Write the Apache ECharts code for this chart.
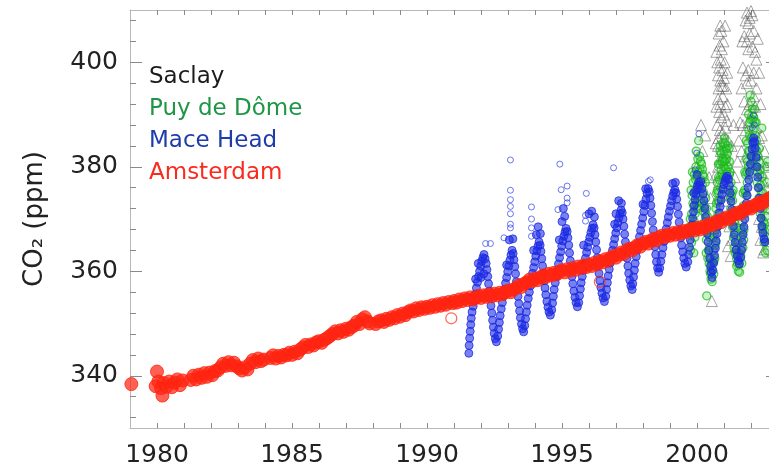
<!DOCTYPE html>
<html>
<head>
<meta charset="utf-8">
<script src="https://cdn.jsdelivr.net/npm/echarts@6/dist/echarts.min.js"></script>
<style>
html,body{margin:0;padding:0;background:#fff;}
#chart{width:769px;height:465px;}
</style>
</head>
<body>
<div id="chart"></div>
<script>
// ---------- data ----------
const seriesNames = ['Saclay', 'Puy de Dôme', 'Mace Head', 'Amsterdam'];
const legendColors = ['#1a1a1a', '#1e9646', '#1e3caa', '#fa2a1e'];

const xLabelYears = [1980, 1985, 1990, 1995, 2000];
const xTickYears = [1980,1981,1982,1983,1984,1985,1986,1987,1988,1989,1990,1991,1992,1993,1994,1995,1996,1997,1998,1999,2000,2001,2002];
const yLabelValues = [340, 360, 380, 400];
const yMinorTicks = [332,336,340,344,348,352,356,360,364,368,372,376,380,384,388,392,396,400,404,408];

// Amsterdam [year, ppm]
const amsterdam = [
[1979.05,338.4],
[1979.95,338.0],[1980.0,340.8],[1980.05,338.9],[1980.15,337.6],[1980.2,336.2],[1980.25,338.6],[1980.35,337.9],[1980.45,338.9],[1980.55,337.8],[1980.65,338.7],[1980.75,339.3],[1980.85,338.2],[1980.95,339.1],
[1981.25,339.2],[1981.35,340.0],[1981.45,339.3],[1981.55,340.2],[1981.65,339.6],[1981.75,340.5],[1981.85,339.8],[1981.95,340.6],[1982.05,340.1],[1982.15,340.9],[1982.25,341.0],[1982.35,341.6],[1982.45,342.3],[1982.55,341.9],[1982.65,342.6],[1982.75,342.0],[1982.85,342.5],[1982.95,341.8],[1983.05,341.4],[1983.15,341.0],[1983.25,341.6],[1983.35,341.2],[1983.45,342.3],[1983.55,343.0],[1983.65,342.6],[1983.75,343.3],[1983.85,342.8],[1983.95,343.1],
[1984.2,343.4],[1984.3,343.9],[1984.4,343.3],[1984.5,343.8],[1984.6,343.5],[1984.7,344.0],[1984.8,343.9],[1984.9,344.4],[1985.0,344.0],[1985.1,344.6],[1985.2,344.3],[1985.3,345.0],[1985.4,345.4],[1985.5,345.9],[1985.6,345.5],[1985.7,346.0],[1985.8,345.8],[1985.9,346.4],[1986.0,346.6],[1986.1,346.3],[1986.2,346.9],[1986.3,347.2],[1986.4,347.6],[1986.5,348.0],[1986.6,348.5],[1986.7,348.1],[1986.8,348.7],[1986.9,348.4],[1987.0,349.0],[1987.1,348.8],[1987.2,349.3],[1987.3,349.6],[1987.4,350.3],[1987.5,349.9],[1987.6,350.8],[1987.7,351.2],[1987.8,350.4],[1987.88,350.0],
[1988.1,349.9],[1988.2,350.4],[1988.3,350.6],[1988.4,350.3],[1988.5,350.9],[1988.6,350.7],[1988.7,351.2],[1988.8,351.0],[1988.9,351.6],[1989.0,351.3],[1989.1,351.9],[1989.2,351.6],[1989.3,352.2],[1989.4,352.5],[1989.5,352.3],[1989.6,352.9],[1989.7,352.6],[1989.8,353.1],[1989.9,352.8],[1990.0,353.2],[1990.1,353.0],[1990.2,353.5],[1990.3,353.2],[1990.4,353.7],[1990.5,353.4],[1990.6,353.9],[1990.7,353.6],[1990.8,354.1],[1990.95,353.9],[1991.0,354.3],[1991.1,354.0],[1991.2,354.6],[1991.3,354.3],[1991.4,354.8],[1991.5,354.5],[1991.6,355.0],[1991.7,354.6],[1991.8,354.9],[1991.9,355.3],[1992.0,354.9],[1992.1,355.4],[1992.2,355.1],[1992.3,355.6],[1992.4,355.2],[1992.5,355.7],[1992.6,355.4],[1992.7,355.9],[1992.8,355.6],[1992.9,356.0],[1993.0,356.3],[1993.1,356.0],[1993.2,356.5],[1993.3,356.8],[1993.4,357.3],[1993.5,357.0],[1993.6,357.6],[1993.7,357.9],[1993.8,358.4],[1993.9,358.1],[1994.0,358.6],[1994.1,358.3],[1994.2,358.8],[1994.3,359.2],[1994.4,358.9],[1994.5,359.5],[1994.6,359.2],[1994.7,359.7],[1994.8,359.4],[1994.9,359.9],[1995.0,360.2],[1995.1,359.8],[1995.2,360.4],[1995.3,360.1],[1995.4,360.6],[1995.5,360.3],[1995.6,360.9],[1995.7,360.6],[1995.8,361.1],[1995.9,360.8],[1996.0,361.3],[1996.1,361.0],[1996.2,361.6],[1996.3,361.3],[1996.4,361.9],[1996.5,361.7],[1996.6,362.3],[1996.7,362.0],[1996.8,362.6],[1996.9,362.9],[1997.0,362.6],[1997.1,363.2],[1997.2,363.6],[1997.3,363.3],[1997.4,364.0],[1997.5,364.3],[1997.6,364.0],[1997.7,364.6],[1997.8,365.0],[1997.9,364.7],[1998.0,365.3],[1998.1,365.6],[1998.2,365.3],[1998.3,365.9],[1998.4,366.2],[1998.5,365.9],[1998.6,366.5],[1998.7,366.8],[1998.8,366.5],[1998.9,367.0],[1999.0,366.8],[1999.1,367.3],[1999.2,367.0],[1999.3,367.5],[1999.4,367.2],[1999.5,367.7],[1999.6,367.5],[1999.7,367.9],[1999.8,368.1],[1999.9,367.8],[2000.0,368.3],[2000.1,368.0],[2000.2,368.5],[2000.3,368.3],[2000.4,368.8],[2000.5,369.1],[2000.6,368.8],[2000.7,369.4],[2000.8,369.7],[2000.9,369.4],[2001.0,370.0],[2001.1,370.3],[2001.2,370.0],[2001.3,370.6],[2001.4,370.9],[2001.5,371.2],[2001.6,371.0],[2001.7,371.6],[2001.8,371.9],[2001.9,372.2],[2002.0,372.0],[2002.1,372.5],[2002.2,372.8],[2002.3,373.1],[2002.4,372.9],[2002.5,373.4],[2002.6,373.7],[2002.7,374.0],[2002.8,374.3],[2002.9,374.6]
];
// Amsterdam isolated readings [year, ppm]
const amsterdamOutliers = [[1990.9,351.0],[1996.4,358.0]];

// Mace Head main seasonal track [year, ppm]
const maceHead = [
[1991.55,344.3],[1991.56,345.8],[1991.58,347.2],[1991.6,348.5],[1991.62,349.8],[1991.64,351.0],[1991.67,352.2],[1991.71,353.3],[1991.75,354.4],[1991.79,355.6],[1991.83,356.8],[1991.87,357.9],[1991.91,359.0],[1991.95,360.0],[1991.99,361.0],[1992.03,361.9],[1992.07,362.6],[1992.11,363.2],[1992.15,362.4],[1992.19,361.5],[1992.22,360.3],[1992.25,359.0],[1992.28,357.6],[1992.31,356.2],[1992.34,354.8],[1992.37,353.4],[1992.4,352.0],[1992.43,350.6],[1992.46,349.3],[1992.49,348.1],[1992.53,347.1],[1992.57,346.5],
[1991.8,358.5],[1991.9,361.5],[1992.0,358.8],[1992.1,359.5],
[1992.62,347.6],[1992.65,348.9],[1992.68,350.2],[1992.71,351.5],[1992.75,352.8],[1992.79,354.0],[1992.83,355.3],[1992.87,356.5],[1992.91,357.7],[1992.95,358.8],[1992.99,359.9],[1993.03,361.0],[1993.07,362.1],[1993.11,363.1],[1993.15,364.0],[1993.19,363.4],[1993.22,362.2],[1993.25,360.9],[1993.28,359.5],[1993.31,358.0],[1993.34,356.6],[1993.37,355.2],[1993.4,353.8],[1993.43,352.4],[1993.46,351.1],[1993.5,349.9],[1993.54,349.0],[1993.58,348.4],
[1992.95,361.2],[1993.05,366.0],[1993.18,366.2],
[1993.62,349.6],[1993.65,350.9],[1993.68,352.2],[1993.71,353.5],[1993.75,354.8],[1993.79,356.0],[1993.83,357.2],[1993.87,358.4],[1993.91,359.6],[1993.95,360.7],[1993.99,361.8],[1994.03,362.9],[1994.07,363.9],[1994.11,364.8],[1994.15,365.6],[1994.19,365.0],[1994.22,363.8],[1994.25,362.4],[1994.28,361.0],[1994.31,359.6],[1994.34,358.2],[1994.37,356.8],[1994.4,355.5],[1994.44,354.2],[1994.48,353.1],[1994.52,352.2],[1994.57,351.6],
[1993.95,364.0],[1994.05,367.0],[1994.12,368.5],[1994.2,367.2],
[1994.62,352.6],[1994.65,353.9],[1994.68,355.2],[1994.71,356.5],[1994.75,357.8],[1994.79,359.0],[1994.83,360.2],[1994.87,361.4],[1994.91,362.6],[1994.95,363.7],[1994.99,364.8],[1995.03,365.8],[1995.07,366.7],[1995.11,367.5],[1995.15,368.2],[1995.19,367.6],[1995.22,366.4],[1995.25,365.0],[1995.28,363.5],[1995.31,362.0],[1995.34,360.5],[1995.37,359.0],[1995.4,357.6],[1995.44,356.2],[1995.48,355.0],[1995.52,354.0],[1995.57,353.2],
[1995.0,369.5],[1995.1,370.5],[1994.9,366.0],[1995.05,372.0],
[1995.62,354.0],[1995.65,355.3],[1995.68,356.6],[1995.71,357.8],[1995.75,359.0],[1995.79,360.2],[1995.83,361.4],[1995.87,362.5],[1995.91,363.6],[1995.95,364.6],[1995.99,365.6],[1996.03,366.5],[1996.07,367.4],[1996.11,368.2],[1996.15,368.9],[1996.19,368.3],[1996.22,367.0],[1996.25,365.6],[1996.28,364.1],[1996.31,362.6],[1996.34,361.1],[1996.37,359.6],[1996.4,358.2],[1996.44,356.9],[1996.48,355.8],[1996.52,354.9],[1996.57,354.2],
[1996.0,371.0],[1996.1,371.5],[1996.2,370.4],[1995.8,365.0],
[1996.62,355.2],[1996.65,356.5],[1996.68,357.8],[1996.71,359.1],[1996.75,360.4],[1996.79,361.6],[1996.83,362.8],[1996.87,364.0],[1996.91,365.1],[1996.95,366.2],[1996.99,367.3],[1997.03,368.3],[1997.07,369.3],[1997.11,370.2],[1997.15,371.0],[1997.19,371.7],[1997.23,371.2],[1997.26,370.0],[1997.29,368.6],[1997.32,367.1],[1997.35,365.6],[1997.38,364.0],[1997.41,362.5],[1997.44,361.0],[1997.47,359.6],[1997.51,358.3],[1997.55,357.2],
[1997.0,371.0],[1997.1,373.5],[1997.2,373.0],[1996.95,369.0],
[1997.6,356.5],[1997.62,357.6],[1997.65,358.9],[1997.68,360.2],[1997.71,361.5],[1997.75,362.8],[1997.79,364.1],[1997.83,365.4],[1997.87,366.6],[1997.91,367.8],[1997.95,369.0],[1997.99,370.2],[1998.03,371.4],[1998.07,372.6],[1998.11,373.8],[1998.15,374.9],[1998.19,375.8],[1998.23,375.2],[1998.26,374.0],[1998.29,372.6],[1998.32,371.1],[1998.35,369.5],[1998.38,367.9],[1998.41,366.3],[1998.44,364.7],[1998.47,363.2],[1998.5,361.8],[1998.54,360.6],[1998.58,359.8],
[1998.1,375.8],[1998.0,372.8],
[1998.62,360.6],[1998.66,361.9],[1998.7,363.2],[1998.74,364.5],[1998.78,365.7],[1998.82,366.9],[1998.86,368.1],[1998.9,369.3],[1998.94,370.4],[1998.98,371.5],[1999.02,372.5],[1999.06,373.5],[1999.1,374.4],[1999.14,375.1],[1999.18,375.6],[1999.22,375.0],[1999.25,373.8],[1999.28,372.4],[1999.31,370.9],[1999.34,369.4],[1999.37,367.9],[1999.4,366.4],[1999.43,365.0],[1999.47,363.7],[1999.51,362.5],[1999.55,361.5],[1999.6,360.8],
[1999.1,376.8],[1999.2,377.0],
[1999.66,361.8],[1999.69,363.2],[1999.72,364.6],[1999.75,366.0],[1999.78,367.4],[1999.81,368.8],[1999.84,370.1],[1999.87,371.4],[1999.9,372.6],[1999.93,373.7],[1999.96,374.7],[1999.99,375.6],[2000.02,376.4],[2000.06,377.0],[2000.1,376.4],[2000.14,377.2],[2000.18,375.8],[2000.22,374.8],[2000.26,373.5],[2000.29,372.0],[2000.32,370.4],[2000.35,368.8],[2000.38,367.2],[2000.41,365.6],[2000.44,364.0],[2000.47,362.5],[2000.5,361.0],[2000.53,359.8],[2000.56,358.8],
[2000.0,378.5],[1999.88,375.0],
[2000.59,360.2],[2000.62,361.6],[2000.65,363.0],[2000.68,364.4],[2000.71,365.8],[2000.74,367.2],[2000.77,368.6],[2000.8,369.9],[2000.83,371.2],[2000.86,372.4],[2000.89,373.6],[2000.92,374.7],[2000.96,375.7],[2001.0,376.6],[2001.04,377.3],[2001.08,377.9],[2001.12,378.2],[2001.16,377.6],[2001.2,376.4],[2001.23,375.0],[2001.26,373.4],[2001.29,371.8],[2001.32,370.2],[2001.35,368.6],[2001.38,367.0],[2001.41,365.5],[2001.45,364.1],[2001.49,362.9],[2001.53,362.0],[2001.57,361.4],
[2001.62,362.6],[2001.65,364.0],[2001.68,365.5],[2001.71,367.0],[2001.74,368.5],[2001.77,370.0],[2001.8,371.5],[2001.83,373.0],[2001.86,374.5],[2001.89,376.0],[2001.92,377.5],[2001.95,379.0],[2001.98,380.5],[2002.01,382.0],[2002.04,383.4],[2002.07,384.6],[2002.1,385.5],[2002.13,384.8],[2002.16,383.5],[2002.19,381.8],[2002.22,380.0],[2002.25,378.0],[2002.28,376.0],[2002.31,374.0],[2002.34,372.0],[2002.37,370.2],[2002.4,368.6],[2002.44,367.3],[2002.48,366.2],[2002.52,365.6]
];
// Mace Head isolated readings [year, ppm]
const maceHeadOutliers = [
[1992.17,365.3],[1992.35,365.3],[1992.85,366.4],
[1993.09,381.3],[1993.09,375.5],[1993.09,373.7],[1993.09,372.4],[1993.09,371.0],[1993.09,369.0],[1993.09,368.3],
[1993.87,372.3],[1993.87,370.0],[1993.87,368.3],[1993.87,366.7],
[1994.92,380.5],[1994.97,375.6],[1995.19,376.3],[1995.19,374.0],[1995.19,373.1],[1994.85,371.8],
[1995.9,374.9],[1995.87,370.7],[1995.87,369.6],
[1996.91,379.8],[1998.27,377.5],[1998.2,377.2],
[2000.07,386.3],[1999.99,382.6],[1999.93,379.4],
[2002.09,389.9],[2002.05,387.5],[2002.12,388.0]
];

// Puy de Dôme [year, ppm]
const puyDeDome = [
[1999.76,364.0],[1999.78,367.5],[1999.8,371.0],[1999.82,374.5],[1999.84,369.0],[1999.86,377.0],[1999.88,372.5],[1999.9,378.5],[1999.92,366.5],[1999.94,375.5],[1999.96,380.0],[1999.98,373.0],[2000.0,378.0],[2000.03,381.5],[2000.06,385.0],[2000.08,375.0],[2000.11,379.5],[2000.14,373.5],[2000.17,380.5],[2000.2,376.5],[2000.23,371.5],[2000.26,378.0],[2000.29,369.5],[2000.32,374.0],[2000.35,366.0],[2000.38,370.5],[2000.4,362.5],[2000.43,367.0],[2000.46,364.5],[2000.48,360.0],[2000.5,362.5],[2000.52,358.5],[2000.54,360.5],[2000.56,358.0],[2000.36,355.3],
[1999.8,365.5],[1999.85,373.0],[1999.9,369.5],[1999.95,377.5],[2000.0,374.5],[2000.05,379.0],[2000.1,382.0],[2000.15,377.5],[2000.2,379.5],[2000.25,375.0],[2000.3,371.0],[2000.35,372.0],[2000.4,368.5],[2000.45,361.5],[2000.5,359.5],
[1999.75,370.0],[1999.78,375.5],[1999.83,379.0],[1999.88,363.5],[1999.93,371.0],[1999.97,383.0],[2000.02,372.0],[2000.04,376.5],[2000.09,372.5],[2000.13,381.0],[2000.18,373.0],[2000.22,378.5],[2000.27,372.5],[2000.31,377.0],[2000.34,363.5],[2000.37,368.0],[2000.42,364.0],[2000.47,366.5],[2000.53,361.5],
[2000.58,361.5],[2000.6,364.0],[2000.62,359.5],[2000.64,367.0],[2000.66,362.5],[2000.68,370.0],[2000.7,365.5],[2000.72,373.0],[2000.74,368.5],[2000.76,375.5],[2000.78,371.0],[2000.8,378.0],[2000.82,373.5],[2000.85,380.5],[2000.88,376.0],[2000.9,382.5],[2000.93,378.5],[2000.96,384.5],[2000.99,380.0],[2001.02,385.5],[2001.05,381.5],[2001.08,383.5],[2001.11,379.0],[2001.14,384.0],[2001.17,377.5],[2001.2,381.0],[2001.23,374.0],[2001.26,377.0],[2001.29,370.5],[2001.32,373.5],[2001.35,366.5],[2001.38,369.5],[2001.41,363.5],[2001.44,366.0],[2001.47,361.0],[2001.5,363.5],[2001.53,360.0],[2001.56,361.5],[2001.58,359.8],
[2000.6,366.5],[2000.65,369.0],[2000.7,372.0],[2000.75,377.0],[2000.8,375.0],[2000.85,383.0],[2000.9,379.5],[2000.95,381.5],[2001.0,383.0],[2001.05,378.0],[2001.1,381.5],[2001.15,380.0],[2001.2,378.5],[2001.25,372.0],[2001.3,375.0],[2001.35,371.5],[2001.4,367.5],[2001.45,364.0],[2001.5,361.5],[2001.55,363.0],
[2000.63,362.0],[2000.67,365.0],[2000.71,368.0],[2000.73,375.0],[2000.77,373.5],[2000.79,380.5],[2000.83,377.5],[2000.87,384.0],[2000.92,381.0],[2000.97,378.0],[2001.01,381.0],[2001.04,384.5],[2001.07,379.5],[2001.12,382.5],[2001.16,375.5],[2001.19,383.5],[2001.22,379.0],[2001.27,374.5],[2001.31,368.5],[2001.34,375.5],[2001.37,364.5],[2001.42,368.5],[2001.46,362.5],[2001.52,365.5],[2001.57,363.5],
[2001.62,363.0],[2001.64,366.5],[2001.66,361.5],[2001.68,369.5],[2001.7,364.5],[2001.72,372.5],[2001.74,368.0],[2001.76,375.5],[2001.78,371.0],[2001.8,378.5],[2001.82,374.5],[2001.84,381.5],[2001.86,377.0],[2001.88,384.5],[2001.9,380.0],[2001.92,387.0],[2001.94,383.0],[2001.97,393.7],[2001.99,389.0],[2002.02,385.5],[2002.05,391.0],[2002.08,387.0],[2002.11,383.0],[2002.14,388.5],[2002.17,380.0],[2002.2,385.0],[2002.23,377.0],[2002.26,382.0],[2002.29,374.0],[2002.32,378.5],[2002.35,371.0],[2002.38,375.0],[2002.4,387.4],[2002.42,368.0],[2002.45,372.0],[2002.48,365.5],[2002.51,369.0],[2002.54,363.5],[2002.57,366.5],[2002.6,364.0],[2002.58,377.0],[2002.62,372.0],[2002.62,381.0],
[2001.65,364.5],[2001.7,367.5],[2001.75,372.0],[2001.8,375.0],[2001.85,379.0],[2001.9,383.0],[2001.95,386.0],[2002.0,382.0],[2002.05,385.0],[2002.1,389.5],[2002.15,384.5],[2002.2,381.5],[2002.25,379.0],[2002.3,381.0],[2002.35,376.5],[2002.4,370.0],[2002.45,368.5],[2002.5,366.0],[2002.55,370.5],[2002.6,368.0],
[2001.63,368.0],[2001.67,371.0],[2001.71,375.0],[2001.73,366.0],[2001.77,379.0],[2001.81,371.5],[2001.83,385.0],[2001.87,381.0],[2001.91,390.0],[2001.93,378.5],[2001.96,388.5],[2002.0,392.5],[2002.03,380.5],[2002.06,389.0],[2002.09,381.5],[2002.13,391.0],[2002.16,386.0],[2002.19,388.5],[2002.22,383.0],[2002.27,376.0],[2002.31,383.5],[2002.34,379.5],[2002.37,373.5],[2002.41,378.0],[2002.44,375.0],[2002.47,369.5],[2002.5,374.0],[2002.53,367.5],[2002.56,373.0],[2002.59,380.0]
];

// Saclay [year, ppm]
const saclay = [
[2000.86,407.0],[2000.8,405.5],[2000.9,406.0],[2000.84,403.2],[2001.04,407.0],
[2000.75,400.0],[2000.82,399.0],[2000.88,400.5],[2000.95,398.5],[2000.78,397.5],[2000.86,396.5],[2000.92,395.5],[2001.0,397.0],[2001.08,395.0],[2000.8,395.0],
[2000.78,393.0],[2000.86,392.0],[2000.95,393.5],[2001.05,391.5],[2000.82,390.5],[2000.9,389.5],[2001.0,390.0],[2001.1,388.8],
[2000.75,388.0],[2000.85,387.0],[2000.95,386.5],[2001.05,387.5],[2000.8,385.5],
[2000.78,384.0],[2000.88,383.0],[2000.98,382.0],[2001.08,383.5],[2000.85,381.5],
[2000.78,380.0],[2000.9,379.0],[2001.0,378.0],[2000.82,377.0],[2000.95,376.5],
[2000.72,402.0],[2000.92,402.5],[2000.98,404.0],[2001.02,400.0],[2001.12,398.0],[2000.72,391.5],[2000.98,395.5],[2001.12,392.0],[2000.7,384.5],[2001.02,385.0],[2001.15,385.0],[2000.7,378.5],[2000.88,374.5],[2001.05,373.5],[2001.18,380.0],[2001.28,384.0],[2001.35,388.0],
[2001.85,409.5],[2001.95,408.5],[2002.05,409.0],[2001.9,407.5],[2002.0,409.8],
[2001.75,405.0],[2001.85,404.0],[2001.95,405.5],[2002.05,403.0],[2002.15,402.0],[2001.9,402.5],[2002.2,400.5],
[2001.7,399.0],[2001.8,397.5],[2001.9,398.5],[2002.0,396.5],[2002.1,398.0],[2001.85,396.0],
[2001.75,392.5],[2001.85,391.0],[2001.95,392.0],[2002.05,390.5],[2002.15,391.5],
[2001.7,388.0],[2001.8,387.0],[2002.0,386.0],[2002.2,387.5],[2002.3,385.5],
[2001.65,383.0],[2001.8,382.0],[2002.25,382.5],[2002.35,381.0],[2002.4,379.0],[2002.45,377.0],
[2001.68,404.0],[2001.8,408.0],[2002.1,406.0],[2002.25,404.5],[2002.3,398.0],[2002.2,395.0],[2001.65,395.0],[2002.35,392.0],[2002.1,393.5],[2001.9,388.5],[2002.1,384.0],[2001.95,380.5],[2002.4,386.0],[2002.5,383.0],[2002.55,380.0],[2001.6,388.5],[2001.55,385.0],[2002.3,370.0],[2002.4,368.5],[2002.6,366.5],[2000.3,386.0],[2000.15,388.0],
[2000.55,354.3],[2001.15,364.8],[2001.25,362.9],[2002.35,366.0],[2002.5,364.2],[2002.45,363.6],[2001.2,368.6],[2001.3,366.0],[2001.55,370.0],[2001.6,372.0],[2000.0,380.0],[2000.2,383.0],[2000.45,378.0],[2000.5,374.0],[2001.4,378.0],[2001.5,381.0],[2002.55,372.0],[2002.6,376.0]
];

// ---------- chart ----------
const FONT = 'DejaVu Sans';
const axisGray = '#b8b8b8';
const tickGray = '#8a8a8a';

const chart = echarts.init(document.getElementById('chart'), null, {renderer: 'canvas'});

const xBase = {
  type: 'value', min: 1979, max: 2003, splitLine: {show: false},
  axisLine: {show: true, lineStyle: {color: axisGray, width: 1}},
  axisTick: {show: true, inside: true, length: 5, customValues: xTickYears, lineStyle: {color: tickGray}}
};
const yBase = {
  type: 'value', min: 330, max: 410, splitLine: {show: false},
  axisLine: {show: true, lineStyle: {color: axisGray, width: 1}}
};
const noHover = {emphasis: {disabled: true}, silent: true};

chart.setOption({
  animation: false,
  backgroundColor: '#ffffff',
  grid: {left: 130, top: 10, width: 648, height: 418, containLabel: false, outerBoundsMode: 'none'},
  legend: {
    orient: 'vertical', left: 138, top: 56, itemWidth: 0, itemHeight: 0, itemGap: 0,
    selectedMode: false,
    textStyle: {fontFamily: FONT, fontSize: 23, lineHeight: 32},
    data: seriesNames.map((n, i) => ({name: n, icon: 'rect', textStyle: {color: legendColors[i]}}))
  },
  xAxis: [
    Object.assign({}, xBase, {
      position: 'bottom',
      axisLabel: {show: true, customValues: xLabelYears, fontFamily: FONT, fontSize: 25, color: '#222', margin: 15, formatter: v => String(v)}
    }),
    Object.assign({}, xBase, {position: 'top', axisLabel: {show: false}})
  ],
  yAxis: [
    Object.assign({}, yBase, {
      position: 'left',
      name: 'CO₂ (ppm)', nameLocation: 'middle', nameRotate: 90, nameGap: 82,
      nameTextStyle: {fontFamily: FONT, fontSize: 26, color: '#222'},
      axisTick: {show: true, inside: true, length: 12, customValues: yLabelValues, lineStyle: {color: tickGray}},
      axisLabel: {show: true, customValues: yLabelValues, fontFamily: FONT, fontSize: 25, color: '#222', margin: 12}
    }),
    Object.assign({}, yBase, {
      position: 'left',
      axisLine: {show: false},
      axisTick: {show: true, inside: true, length: 6, customValues: yMinorTicks, lineStyle: {color: tickGray}},
      axisLabel: {show: false}
    }),
    Object.assign({}, yBase, {
      position: 'right',
      axisTick: {show: true, inside: true, length: 12, customValues: yLabelValues, lineStyle: {color: tickGray}},
      axisLabel: {show: false}
    })
  ],
  series: [
    Object.assign({
      name: seriesNames[0], type: 'scatter', data: saclay, symbol: 'triangle', symbolSize: 11,
      itemStyle: {color: 'rgba(0,0,0,0)', borderColor: 'rgba(95,95,95,0.7)', borderWidth: 1}
    }, noHover),
    Object.assign({
      name: seriesNames[1], type: 'scatter', data: puyDeDome, symbol: 'circle', symbolSize: 8,
      itemStyle: {color: 'rgba(40,200,40,0.3)', borderColor: 'rgba(25,185,25,0.9)', borderWidth: 1.3}
    }, noHover),
    Object.assign({
      name: seriesNames[2], type: 'scatter', data: maceHeadOutliers, symbol: 'circle', symbolSize: 6,
      itemStyle: {color: 'rgba(0,0,0,0)', borderColor: 'rgba(40,55,230,0.85)', borderWidth: 1}
    }, noHover),
    Object.assign({
      name: seriesNames[2], type: 'scatter', data: maceHead, symbol: 'circle', symbolSize: 8,
      itemStyle: {color: 'rgba(30,45,230,0.75)', borderColor: 'rgba(25,40,225,0.95)', borderWidth: 1}
    }, noHover),
    Object.assign({
      name: seriesNames[3], type: 'scatter', data: amsterdamOutliers, symbol: 'circle', symbolSize: 11,
      itemStyle: {color: 'rgba(0,0,0,0)', borderColor: 'rgba(255,40,20,0.9)', borderWidth: 1.2}
    }, noHover),
    Object.assign({
      name: seriesNames[3], type: 'scatter', data: amsterdam, symbol: 'circle', symbolSize: 13,
      itemStyle: {color: 'rgba(255,38,18,0.9)', borderColor: 'rgba(255,35,15,1)', borderWidth: 1}
    }, noHover)
  ]
});
</script>
</body>
</html>
